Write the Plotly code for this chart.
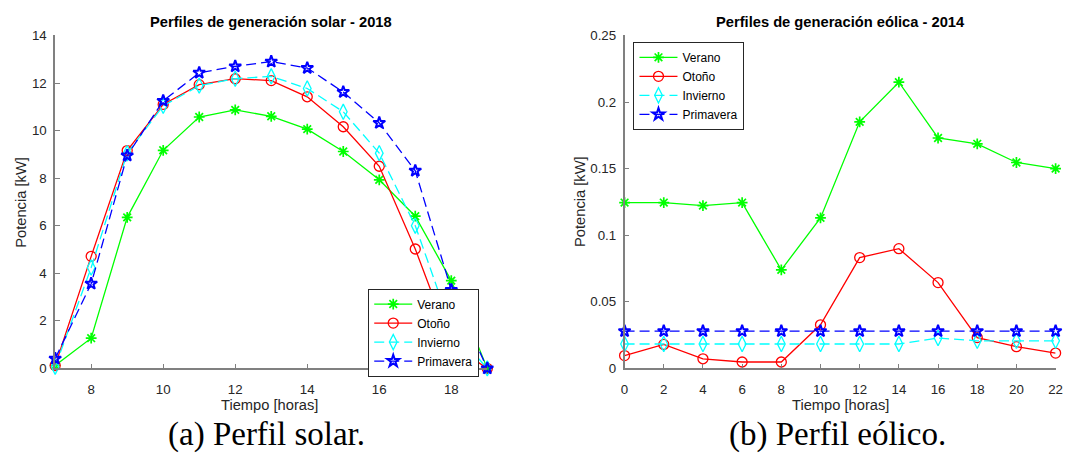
import plotly.graph_objects as go

# ---------------- data ----------------
hours_solar = [7, 8, 9, 10, 11, 12, 13, 14, 15, 16, 17, 18, 19]
solar_verano = [0.12, 1.27, 6.35, 9.17, 10.57, 10.87, 10.6, 10.06, 9.12, 7.93, 6.4, 3.69, 0.0]
solar_otono = [0.12, 4.71, 9.16, 11.1, 11.93, 12.18, 12.1, 11.42, 10.16, 8.5, 5.02, 1.0, 0.0]
solar_invierno = [0.07, 4.24, 9.05, 11.04, 11.89, 12.18, 12.28, 11.77, 10.79, 9.05, 6.0, 1.7, 0.0]
solar_primavera = [0.41, 3.56, 8.95, 11.25, 12.43, 12.7, 12.9, 12.63, 11.62, 10.32, 8.31, 3.3, 0.0]

hours_wind = [0, 2, 4, 6, 8, 10, 12, 14, 16, 18, 20, 22]
wind_verano = [0.1245, 0.1245, 0.1222, 0.1245, 0.074, 0.113, 0.1851, 0.2149, 0.173, 0.1686, 0.1546, 0.150]
wind_otono = [0.0096, 0.018, 0.0072, 0.0048, 0.0048, 0.0327, 0.0832, 0.0899, 0.0644, 0.0231, 0.0163, 0.0115]
wind_invierno = [0.0183, 0.0183, 0.0183, 0.0183, 0.0183, 0.0183, 0.0183, 0.0183, 0.0228, 0.0207, 0.0207, 0.0207]
wind_primavera = [0.0279, 0.0279, 0.0279, 0.0279, 0.0279, 0.0279, 0.0279, 0.0279, 0.0279, 0.0279, 0.0279, 0.0279]

season_names = ["Verano", "Otoño", "Invierno", "Primavera"]

solar_xticks = [8, 10, 12, 14, 16, 18]
solar_yticks = [0, 2, 4, 6, 8, 10, 12, 14]
wind_xticks = [0, 2, 4, 6, 8, 10, 12, 14, 16, 18, 20, 22]
wind_yticks = [0, 0.05, 0.1, 0.15, 0.2, 0.25]
wind_yticktext = ["0", "0.05", "0.1", "0.15", "0.2", "0.25"]

# ---------------- styles ----------------
styles = [
    dict(color="#00FF00", dash="solid", symbol="asterisk-open", size=9, lw=1.7),
    dict(color="#FF0000", dash="solid", symbol="circle-open", size=10, lw=1.3),
    dict(color="#00FFFF", dash="10px,5px", symbol="diamond-tall-open", size=11, lw=1.3),
    dict(color="#0000FF", dash="10px,5px", symbol="star-open", size=9, lw=2.0),
]

W, H = 1073, 462
SANS = "Liberation Sans, Arial, sans-serif"
TXT = "#262626"
AXC = "#808080"

fig = go.Figure()

solar_series = [solar_verano, solar_otono, solar_invierno, solar_primavera]
wind_series = [wind_verano, wind_otono, wind_invierno, wind_primavera]

for name, ys, st in zip(season_names, solar_series, styles):
    fig.add_trace(go.Scatter(
        x=hours_solar, y=ys, name=name, mode="lines+markers",
        line=dict(color=st["color"], width=1.3, dash=st["dash"]),
        marker=dict(symbol=st["symbol"], size=st["size"], color=st["color"],
                    line=dict(color=st["color"], width=st["lw"])),
        cliponaxis=False, xaxis="x", yaxis="y", legend="legend",
    ))

for name, ys, st in zip(season_names, wind_series, styles):
    fig.add_trace(go.Scatter(
        x=hours_wind, y=ys, name=name, mode="lines+markers",
        line=dict(color=st["color"], width=1.3, dash=st["dash"]),
        marker=dict(symbol=st["symbol"], size=st["size"], color=st["color"],
                    line=dict(color=st["color"], width=st["lw"])),
        cliponaxis=False, xaxis="x2", yaxis="y2", legend="legend2",
    ))


def px_x(p):
    return p / W


def px_y(p):
    return 1 - p / H


axis_common = dict(
    showline=True, linecolor=AXC, linewidth=1.5, mirror=False,
    ticks="inside", ticklen=5, tickcolor=AXC, tickwidth=1,
    showgrid=False, zeroline=False,
    tickfont=dict(family=SANS, size=13.3, color=TXT),
    fixedrange=True,
)

ydom = [px_y(373.5), px_y(29.4)]

fig.update_layout(
    width=W, height=H,
    margin=dict(l=0, r=0, t=0, b=0),
    paper_bgcolor="white", plot_bgcolor="white",
    font=dict(family=SANS, size=12, color=TXT),
    xaxis=dict(domain=[px_x(51.7), px_x(488.3)], range=[7, 19], tickvals=solar_xticks,
               anchor="y", ticklabelstandoff=8, **axis_common),
    yaxis=dict(domain=ydom, range=[0, 14], tickvals=solar_yticks, anchor="x",
               ticklabelstandoff=4, **axis_common),
    xaxis2=dict(domain=[px_x(627), px_x(1062.5)], range=[0, 22], tickvals=wind_xticks,
                anchor="y2", ticklabelstandoff=8, **axis_common),
    yaxis2=dict(domain=ydom, range=[0, 0.25], tickvals=wind_yticks, ticktext=wind_yticktext,
                anchor="x2", ticklabelstandoff=4, **axis_common),
    legend=dict(x=px_x(368), y=px_y(291), xanchor="left", yanchor="top",
                bgcolor="white", bordercolor=TXT, borderwidth=1,
                font=dict(family=SANS, size=12, color="black"), itemwidth=38,
                tracegroupgap=0),
    legend2=dict(x=px_x(636), y=px_y(36), xanchor="left", yanchor="top",
                 bgcolor="white", bordercolor=TXT, borderwidth=1,
                 font=dict(family=SANS, size=12, color="black"), itemwidth=38,
                 tracegroupgap=0),
    showlegend=True,
)

ann = []
# titles
ann.append(dict(text="<b>Perfiles de generación solar - 2018</b>", x=px_x(270), y=px_y(16),
                font=dict(family=SANS, size=14.7, color="black")))
ann.append(dict(text="<b>Perfiles de generación eólica - 2014</b>", x=px_x(845), y=px_y(16),
                font=dict(family=SANS, size=14.7, color="black")))
# axis labels
ann.append(dict(text="Potencia [kW]", x=px_x(17), y=px_y(201.5), textangle=-90,
                font=dict(family=SANS, size=14.7, color=TXT)))
ann.append(dict(text="Potencia [kW]", x=px_x(582), y=px_y(201.5), textangle=-90,
                font=dict(family=SANS, size=14.7, color=TXT)))
ann.append(dict(text="Tiempo [horas]", x=px_x(268), y=px_y(411),
                font=dict(family=SANS, size=14.7, color=TXT)))
ann.append(dict(text="Tiempo [horas]", x=px_x(845), y=px_y(411),
                font=dict(family=SANS, size=14.7, color=TXT)))
# captions
ann.append(dict(text="(a) Perfil solar.", x=px_x(265), y=px_y(442),
                font=dict(family="Liberation Serif, serif", size=33, color="black")))
ann.append(dict(text="(b) Perfil eólico.", x=px_x(842), y=px_y(442),
                font=dict(family="Liberation Serif, serif", size=33, color="black")))

for a in ann:
    a.update(xref="paper", yref="paper", xanchor="center", yanchor="middle", showarrow=False)
fig.update_layout(annotations=ann)

fig.write_html("out.html", config={"displayModeBar": False},
               post_script="document.body.style.margin='0';")
